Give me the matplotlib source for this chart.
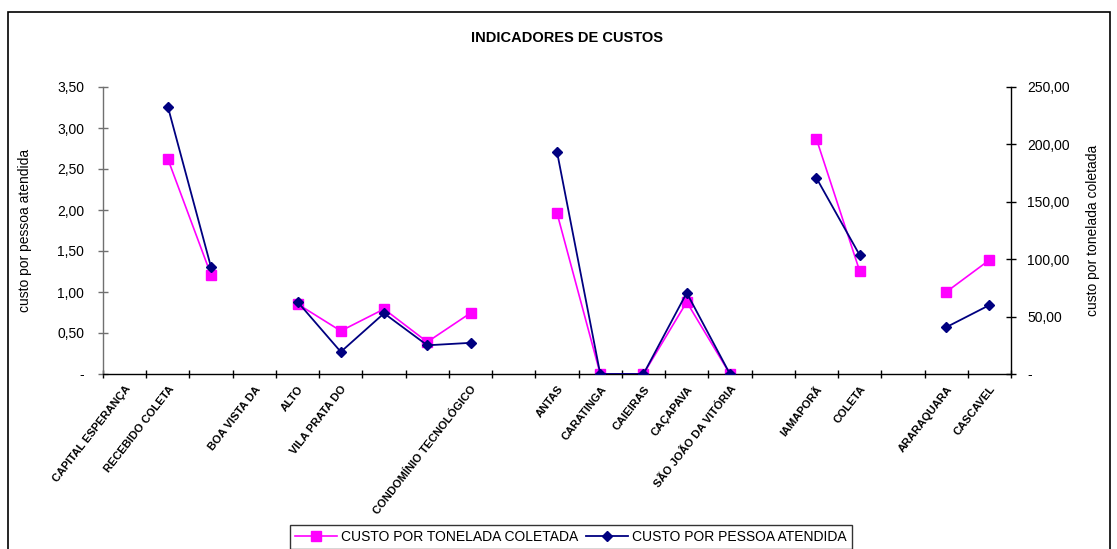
import numpy as np
import matplotlib.pyplot as plt
from matplotlib.patches import Rectangle
from matplotlib.lines import Line2D
import matplotlib.transforms as mtransforms

# 21 categorias (Excel deixa algumas em branco entre os grupos)
categorias = ["CAPITAL ESPERANÇA", "RECEBIDO COLETA", "", "BOA VISTA DA", "ALTO",
              "VILA PRATA DO", "", "", "CONDOMÍNIO TECNOLÓGICO", "", "ANTAS",
              "CARATINGA", "CAIEIRAS", "CAÇAPAVA", "SÃO JOÃO DA VITÓRIA", "",
              "IAMAPORÃ", "COLETA", "", "ARARAQUARA", "CASCAVEL"]

nan = np.nan
custo_pessoa = [nan, 3.26, 1.30, nan, 0.88, 0.27, 0.74, 0.35, 0.38, nan,
                2.71, 0.0, 0.0, 0.99, 0.0, nan, 2.39, 1.45, nan, 0.57, 0.84]
custo_tonelada = [nan, 187.3, 86.2, nan, 61.0, 37.5, 56.6, 27.9, 53.1, nan,
                  140.2, 0.0, 0.0, 62.7, 0.0, nan, 204.7, 89.7, nan, 71.4, 99.3]

left_ticks = [0, 0.5, 1.0, 1.5, 2.0, 2.5, 3.0, 3.5]
right_ticks = [0, 50, 100, 150, 200, 250]

plt.rcParams['font.family'] = ['Liberation Sans', 'DejaVu Sans']

fig = plt.figure(figsize=(11.17, 5.49), dpi=100)
ax = fig.add_axes([103/1117, 1-374/549, (1011-103)/1117, (374-87)/549])
ax2 = ax.twinx()

x = np.arange(len(categorias))

def fmt(v):
    if v == 0:
        return "-"
    return f"{v:.2f}".replace(".", ",")

# series
ax.plot(x, custo_pessoa, color='#000080', marker='D', markersize=5.5, lw=1.3,
        zorder=3)
ax2.plot(x, custo_tonelada, color='#FF00FF', marker='s', markersize=6.5, lw=1.2,
         zorder=2)
ax.set_zorder(ax2.get_zorder() + 1)
ax.patch.set_visible(False)

ax.set_xlim(-0.5, len(categorias) - 0.5)
ax.set_ylim(0, 3.5)
ax2.set_ylim(0, 250)

ax.set_yticks(left_ticks)
ax.set_yticklabels([fmt(v) for v in left_ticks], fontsize=10)
ax2.set_yticks(right_ticks)
ax2.set_yticklabels([fmt(v) for v in right_ticks], fontsize=10)

ax.set_xticks(np.arange(-0.5, len(categorias)))
ax.set_xticklabels([])

for a in (ax, ax2):
    a.spines['top'].set_visible(False)
ax.spines['right'].set_visible(False)
ax2.spines['left'].set_visible(False)
ax2.spines['bottom'].set_visible(False)
ax.spines['left'].set_color('#707070')
ax.spines['left'].set_linewidth(1.0)
ax.spines['bottom'].set_linewidth(1.0)
ax2.spines['right'].set_linewidth(1.0)

ax.tick_params(axis='y', direction='inout', length=7, width=1, colors='#707070',
               labelcolor='black', pad=10)
ax.tick_params(axis='x', direction='inout', length=6, width=1)
ax2.tick_params(axis='y', direction='inout', length=7, width=1, pad=8)

ax.set_ylabel("custo por pessoa atendida", fontsize=10, labelpad=18)
ax2.set_ylabel("custo por tonelada coletada", fontsize=10, labelpad=12)

# rotulos das categorias (inclinados)
trans = mtransforms.blended_transform_factory(ax.transData, ax.transAxes)
for i, lab in enumerate(categorias):
    if lab:
        ax.text(i, -0.035, lab, transform=trans, rotation=52, ha='right', va='top',
                rotation_mode='anchor', fontsize=8, fontweight='bold',
                family=['Liberation Sans Narrow', 'Liberation Sans'])

fig.text(567/1117, 1-38/549, "INDICADORES DE CUSTOS", ha='center', va='center',
         fontsize=10.5, fontweight='bold')

# moldura do grafico
fig.patches.append(Rectangle((8/1117, -0.05), 1102/1117, 1-12/549 + 0.05,
                             transform=fig.transFigure, fill=False,
                             edgecolor='black', lw=1.2))

handles = [Line2D([], [], color='#FF00FF', marker='s', markersize=6.5, lw=1.2),
           Line2D([], [], color='#000080', marker='D', markersize=5.5, lw=1.3)]
leg = fig.legend(handles, ["CUSTO POR TONELADA COLETADA", "CUSTO POR PESSOA ATENDIDA"],
                 loc='center', bbox_to_anchor=(571/1117, 1-537/549), ncol=2,
                 fontsize=10, frameon=True, fancybox=False, edgecolor='black',
                 handlelength=3.0, columnspacing=0.6, handletextpad=0.3,
                 borderpad=0.35)
leg.get_frame().set_linewidth(1.0)

fig.savefig("out.png", dpi=100)
